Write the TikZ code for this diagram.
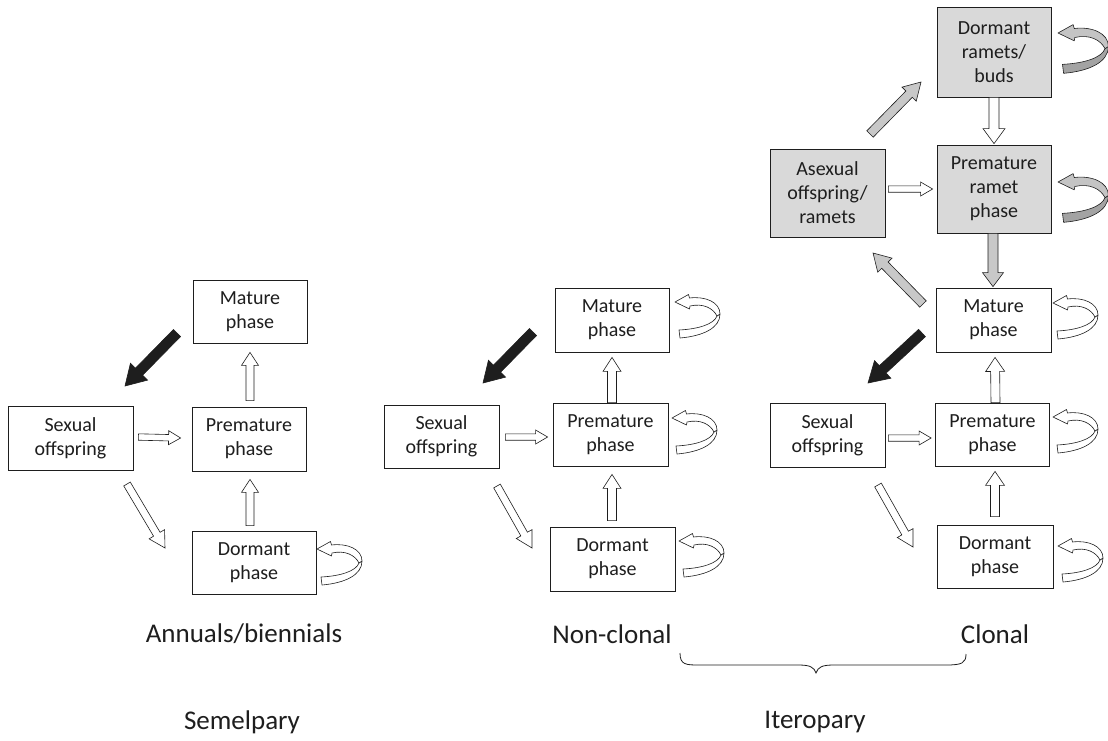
\documentclass[tikz,border=0pt]{standalone}
\usepackage{fontspec}
\setmainfont{Carlito}
\usetikzlibrary{calc}
\definecolor{boxgray}{HTML}{D9D9D9}
\definecolor{arrgray}{HTML}{C8C8C8}
\definecolor{looplight}{HTML}{C4C4C4}
\definecolor{loopdark}{HTML}{A3A3A3}
\definecolor{ink}{HTML}{1E1E1E}
\newcommand\blockarrow[6]{%
  \coordinate (bah) at ($(#3)!#6!(#2)$);
  \filldraw[#1] ($(#2)!#4!90:(#3)$) -- ($(bah)!#4!-90:(#2)$) -- ($(bah)!#5!-90:(#2)$) -- (#3)
    -- ($(bah)!#5!90:(#2)$) -- ($(bah)!#4!90:(#2)$) -- ($(#2)!#4!-90:(#3)$) -- cycle;
}
\tikzset{
  box/.style={draw=ink, line width=0.8pt, align=center, inner sep=0pt, text=ink,
    font=\fontsize{20}{24}\selectfont},
  gbox/.style={box, fill=boxgray},
  lbl/.style={text=ink, font=\fontsize{27}{32}\selectfont, inner sep=0pt},
  harr/.style={draw=ink, line width=0.6pt, fill=white},
  garr/.style={draw=ink, line width=0.6pt, fill=arrgray},
  barr/.style={draw=ink, line width=0.6pt, fill=ink},
  wloop/.pic={
    \filldraw[draw=ink, line width=0.6pt, fill=white, line join=round]
      (5,36) .. controls (28,34) and (45,26) .. (45,12) -- (42,14)
      .. controls (39,22) and (24,27) .. (4,28) -- cycle;
    \filldraw[draw=ink, line width=0.6pt, fill=white, line join=round]
      (0,0) -- (13.5,-7.5) -- (14.5,-4) .. controls (30,-6) and (45,0) .. (45,12) -- (42,14)
      .. controls (38,6) and (28,1) .. (15,4) -- (14.5,7) -- cycle;
  },
  gloop/.pic={
    \filldraw[draw=ink, line width=0.6pt, fill=loopdark, line join=round]
      (5,36) .. controls (28,34) and (45,26) .. (45,12) -- (42,14)
      .. controls (39,22) and (24,27) .. (4,28) -- cycle;
    \filldraw[draw=ink, line width=0.6pt, fill=looplight, line join=round]
      (0,0) -- (13.5,-7.5) -- (14.5,-4) .. controls (30,-6) and (45,0) .. (45,12) -- (42,14)
      .. controls (38,6) and (28,1) .. (15,4) -- (14.5,7) -- cycle;
  }
}
\begin{document}
\begin{tikzpicture}[x=1pt,y=-1pt]
\useasboundingbox[fill=white] (0,0) rectangle (1108,740);

% ---------- Panel 1: Annuals/biennials ----------
\node[box, minimum width=114pt, minimum height=63pt] (am) at (250,311.5) {Mature\\phase};
\node[box, minimum width=125pt, minimum height=64pt] (as) at (70.5,438) {Sexual\\offspring};
\node[box, minimum width=114pt, minimum height=64pt] (ap) at (249,439) {Premature\\phase};
\node[box, minimum width=124pt, minimum height=63pt] (ad) at (254,562.5) {Dormant\\phase};

\coordinate (a1t) at (177,333); \coordinate (a1h) at (125,386);
\blockarrow{barr}{a1t}{a1h}{5pt}{12pt}{20pt}
\coordinate (a2t) at ($(as.east)+(5,-1)$); \coordinate (a2h) at ($(ap.west)+(-11,-1)$);
\blockarrow{harr}{a2t}{a2h}{3.2pt}{7pt}{12pt}
\coordinate (a3t) at ($(ap.north)+(1,-6)$); \coordinate (a3h) at ($(am.south)+(0,9)$);
\blockarrow{harr}{a3t}{a3h}{4pt}{8.5pt}{13pt}
\coordinate (a4t) at ($(ad.north)+(-4,-5)$); \coordinate (a4h) at ($(ap.south)+(1,8)$);
\blockarrow{harr}{a4t}{a4h}{4pt}{8.5pt}{13pt}
\coordinate (a5t) at (127,484); \coordinate (a5h) at (165,548);
\blockarrow{harr}{a5t}{a5h}{3.8pt}{9pt}{16pt}
\pic at (317,549) {wloop};

% ---------- Panel 2: Non-clonal ----------
\node[box, minimum width=114pt, minimum height=64pt] (bm) at (612,320) {Mature\\phase};
\node[box, minimum width=115pt, minimum height=63pt] (bs) at (441.5,436.5) {Sexual\\offspring};
\node[box, minimum width=115pt, minimum height=63pt] (bp) at (610.5,434.5) {Premature\\phase};
\node[box, minimum width=125pt, minimum height=64pt] (bd) at (612.5,559) {Dormant\\phase};

\coordinate (b1t) at (533,332); \coordinate (b1h) at (483,383);
\blockarrow{barr}{b1t}{b1h}{5pt}{12pt}{20pt}
\coordinate (b2t) at ($(bs.east)+(6,0.5)$); \coordinate (b2h) at ($(bp.west)+(-5,2.5)$);
\blockarrow{harr}{b2t}{b2h}{3.2pt}{7pt}{12pt}
\coordinate (b3t) at ($(bp.north)+(1.5,0)$); \coordinate (b3h) at ($(bm.south)+(0,5)$);
\blockarrow{harr}{b3t}{b3h}{4.5pt}{9pt}{14pt}
\coordinate (b4t) at ($(bd.north)+(-0.5,-6)$); \coordinate (b4h) at ($(bp.south)+(1.5,8)$);
\blockarrow{harr}{b4t}{b4h}{4.5pt}{9pt}{14pt}
\coordinate (b5t) at (497,486); \coordinate (b5h) at (532,548);
\blockarrow{harr}{b5t}{b5h}{3.8pt}{9pt}{16pt}
\pic at (675,302) {wloop};
\pic at (672,418) {wloop};
\pic at (679,541) {wloop};

% ---------- Panel 3: Clonal ----------
\node[gbox, minimum width=114pt, minimum height=90pt] (cdr) at (994,52) {Dormant\\ramets/\\buds};
\node[gbox, minimum width=115pt, minimum height=88pt] (ca) at (827.5,193) {Asexual\\offspring/\\ramets};
\node[gbox, minimum width=114pt, minimum height=88pt] (cpr) at (994,189) {Premature\\ramet\\phase};
\node[box, minimum width=115pt, minimum height=64pt] (cm) at (993.5,320) {Mature\\phase};
\node[box, minimum width=115pt, minimum height=64pt] (cs) at (827.5,435) {Sexual\\offspring};
\node[box, minimum width=114pt, minimum height=63pt] (cp) at (992.5,434.5) {Premature\\phase};
\node[box, minimum width=116pt, minimum height=63pt] (cd) at (995,556.5) {Dormant\\phase};

\coordinate (c1t) at (922,333); \coordinate (c1h) at (868,383);
\blockarrow{barr}{c1t}{c1h}{5pt}{12pt}{20pt}
\coordinate (c2t) at ($(cs.east)+(3,3)$); \coordinate (c2h) at ($(cp.west)+(-4,3.5)$);
\blockarrow{harr}{c2t}{c2h}{3.2pt}{7pt}{12pt}
\coordinate (c3t) at ($(cp.north)+(3,0)$); \coordinate (c3h) at ($(cm.south)+(1.5,5)$);
\blockarrow{harr}{c3t}{c3h}{4.5pt}{9.5pt}{14pt}
\coordinate (c4t) at ($(cd.north)+(0,-8)$); \coordinate (c4h) at ($(cp.south)+(2.5,5)$);
\blockarrow{harr}{c4t}{c4h}{4.5pt}{9.5pt}{14pt}
\coordinate (c5t) at (878,485); \coordinate (c5h) at (913,547);
\blockarrow{harr}{c5t}{c5h}{3.8pt}{9pt}{16pt}
\coordinate (c6t) at (923,304); \coordinate (c6h) at (873,253);
\blockarrow{garr}{c6t}{c6h}{4.5pt}{10pt}{17pt}
\coordinate (c7t) at (870,134); \coordinate (c7h) at (921,82);
\blockarrow{garr}{c7t}{c7h}{4.5pt}{10pt}{17pt}
\coordinate (c8t) at ($(ca.east)+(3,-4)$); \coordinate (c8h) at ($(cpr.west)+(-4,0)$);
\blockarrow{harr}{c8t}{c8h}{3.2pt}{7pt}{12pt}
\coordinate (c9t) at (cdr.south); \coordinate (c9h) at ($(cpr.north)+(0,-1)$);
\blockarrow{harr}{c9t}{c9h}{5pt}{11pt}{15pt}
\coordinate (c10t) at ($(cpr.south)+(-1,0)$); \coordinate (c10h) at ($(cm.north)+(-0.5,-1)$);
\blockarrow{garr}{c10t}{c10h}{5pt}{10.5pt}{14pt}
\pic[scale=1.12] at (1058,33) {gloop};
\pic[scale=1.12] at (1058,182) {gloop};
\pic at (1053,303) {wloop};
\pic at (1053,417) {wloop};
\pic at (1058,546) {wloop};

% ---------- Labels ----------
\node[lbl] (l1) at (244,634) {Annuals/biennials};
\node[lbl] (l2) at (612,634) {Non-clonal};
\node[lbl] (l3) at (995,634) {Clonal};
\node[lbl] (l4) at (242,722) {Semelpary};
\node[lbl] (l5) at (815,722) {Iteropary};

\draw[ink, line width=0.8pt] (680,653) .. controls (680,665) and (686,665) .. (700,665) -- (798,665)
  .. controls (810,665) and (814,667) .. (816,673) .. controls (818,667) and (822,665) .. (834,665)
  -- (946,665) .. controls (962,665) and (966,663) .. (966,654);
\end{tikzpicture}
\end{document}
